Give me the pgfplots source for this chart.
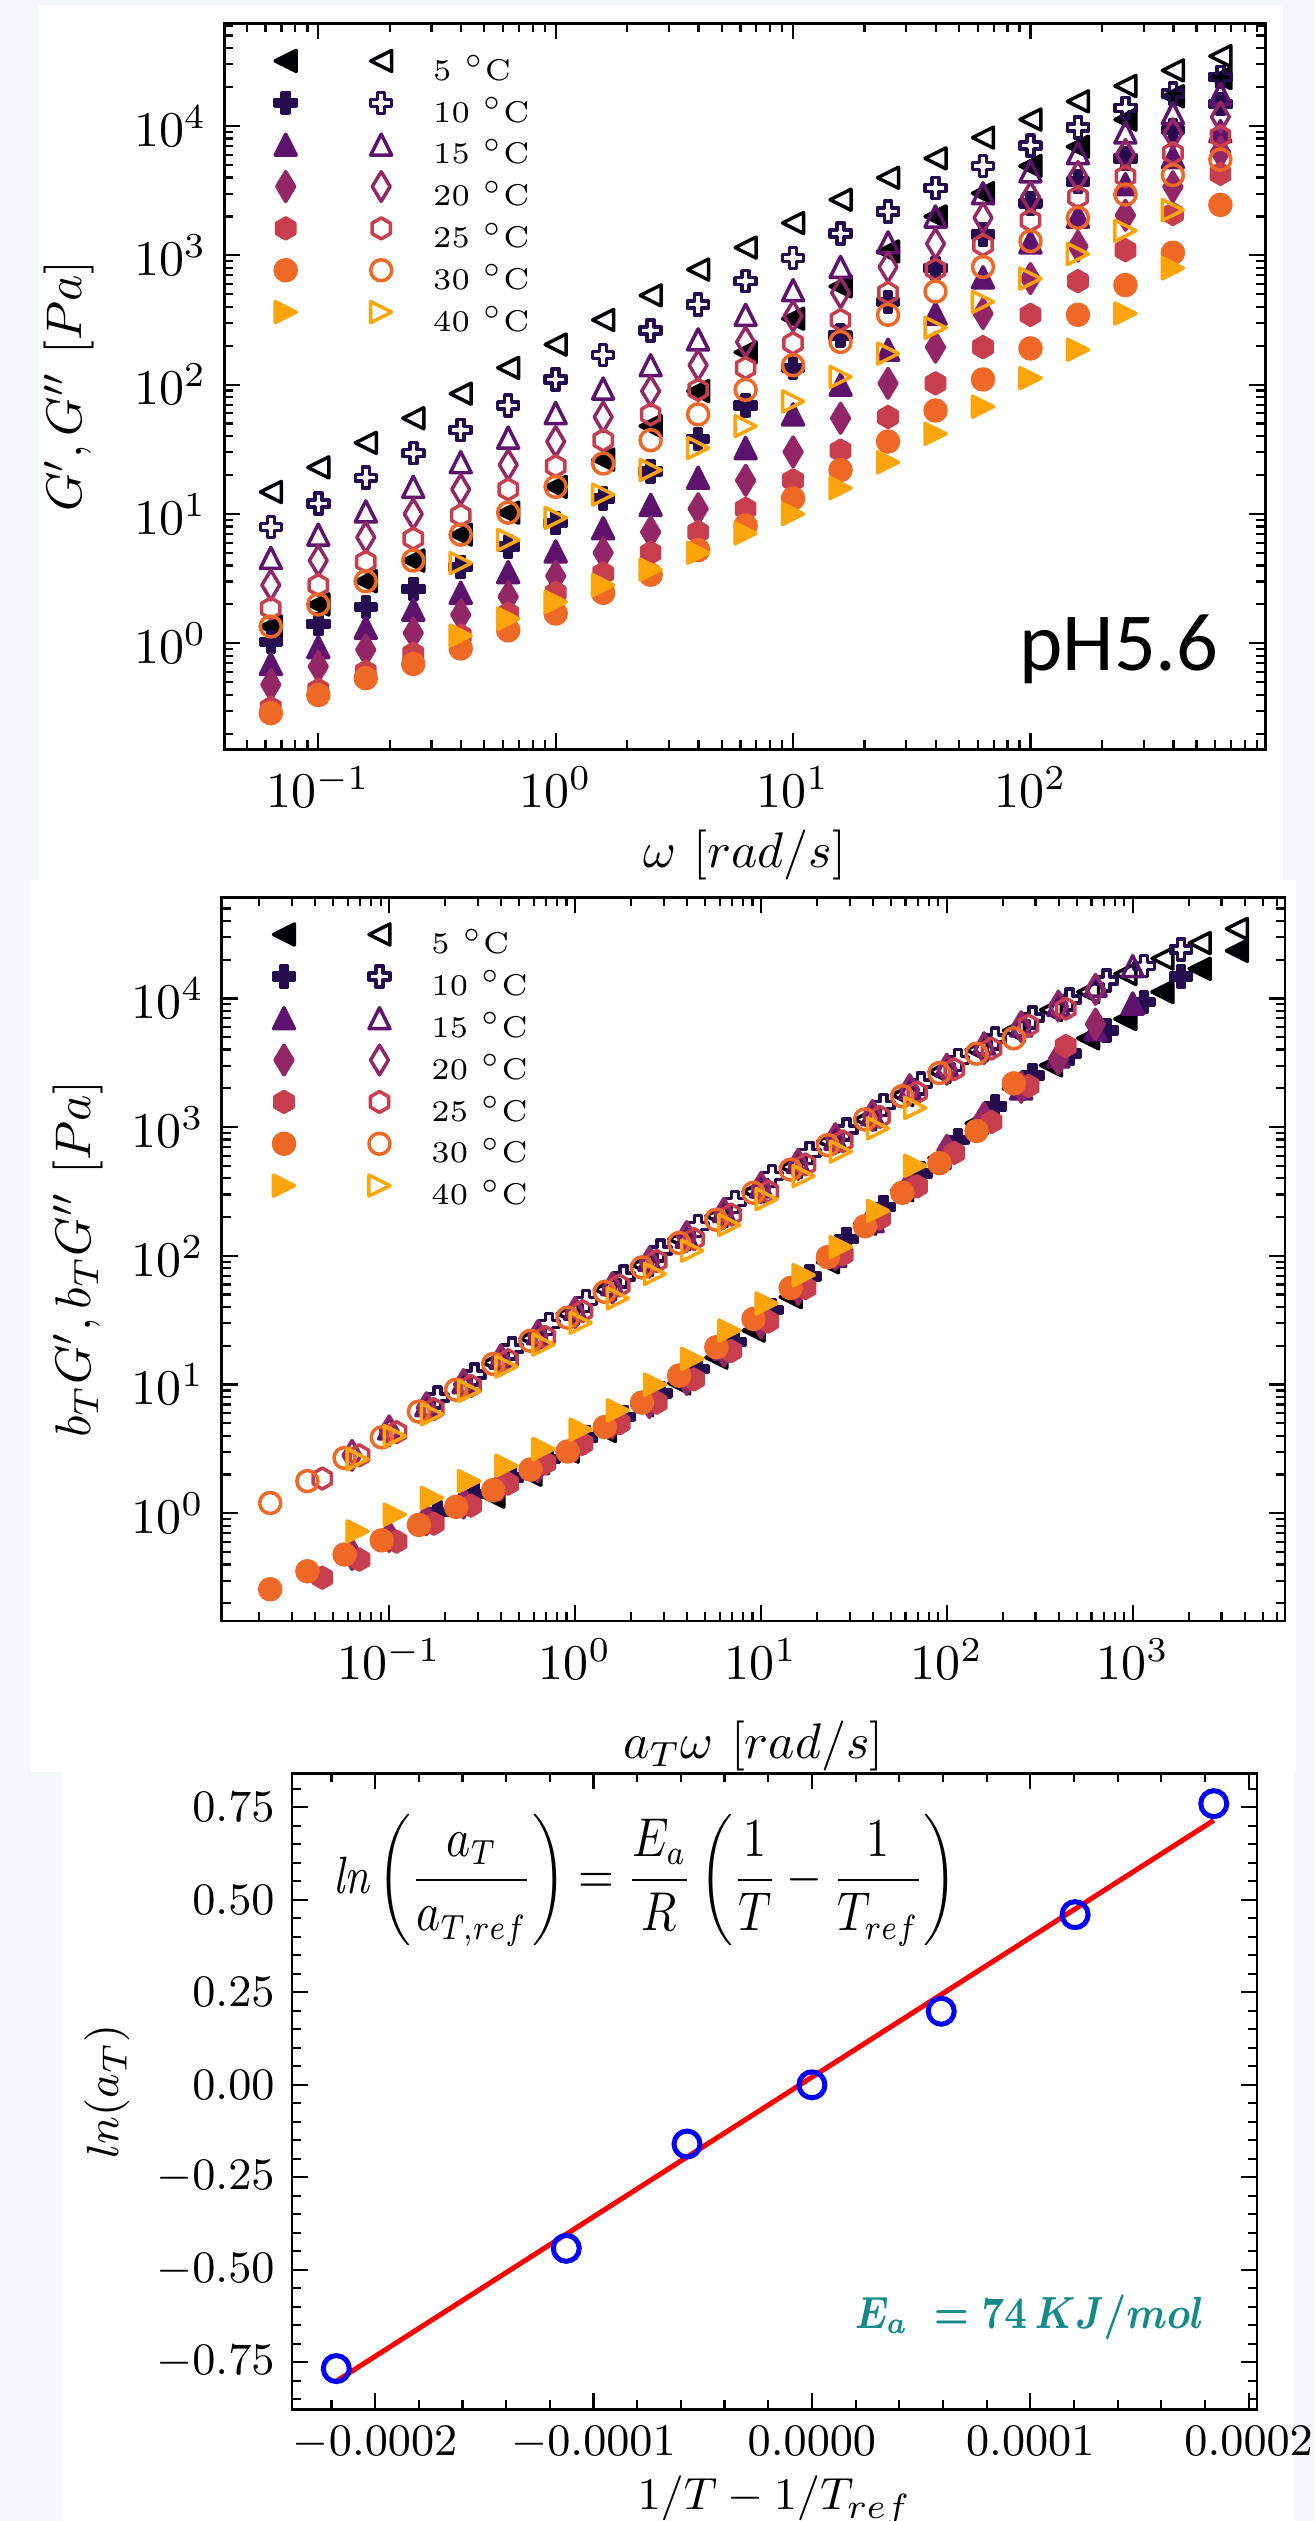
\documentclass[border=0pt]{standalone}
\usepackage{fontspec}
\usepackage{amsmath}
\usepackage{graphicx}
\usepackage{pgfplots}
\usepackage{pgfplotstable}
\pgfplotsset{compat=1.18}
\newfontfamily\calibri{Carlito}

\definecolor{bgc}{HTML}{F4F8F9}
\definecolor{ca}{HTML}{000004}
\definecolor{cb}{HTML}{240C4F}
\definecolor{cc}{HTML}{5D126E}
\definecolor{cd}{HTML}{932667}
\definecolor{ce}{HTML}{C73E4E}
\definecolor{cf}{HTML}{EE6925}
\definecolor{cg}{HTML}{FCA50A}
\definecolor{eacol}{HTML}{148A8A}

% matplotlib-like markers
\newcommand\mr{\pgfplotmarksize}
\newcommand\pathtl{\pgfpathmoveto{\pgfqpoint{-\mr}{0pt}}\pgfpathlineto{\pgfqpoint{\mr}{\mr}}\pgfpathlineto{\pgfqpoint{\mr}{-\mr}}\pgfpathclose}
\newcommand\pathtr{\pgfpathmoveto{\pgfqpoint{\mr}{0pt}}\pgfpathlineto{\pgfqpoint{-\mr}{\mr}}\pgfpathlineto{\pgfqpoint{-\mr}{-\mr}}\pgfpathclose}
\newcommand\pathtu{\pgfpathmoveto{\pgfqpoint{0pt}{\mr}}\pgfpathlineto{\pgfqpoint{-\mr}{-\mr}}\pgfpathlineto{\pgfqpoint{\mr}{-\mr}}\pgfpathclose}
\newcommand\pathpl{\pgfpathmoveto{\pgfqpoint{-0.333\mr}{-\mr}}%
 \pgfpathlineto{\pgfqpoint{-0.333\mr}{-0.333\mr}}\pgfpathlineto{\pgfqpoint{-\mr}{-0.333\mr}}%
 \pgfpathlineto{\pgfqpoint{-\mr}{0.333\mr}}\pgfpathlineto{\pgfqpoint{-0.333\mr}{0.333\mr}}%
 \pgfpathlineto{\pgfqpoint{-0.333\mr}{\mr}}\pgfpathlineto{\pgfqpoint{0.333\mr}{\mr}}%
 \pgfpathlineto{\pgfqpoint{0.333\mr}{0.333\mr}}\pgfpathlineto{\pgfqpoint{\mr}{0.333\mr}}%
 \pgfpathlineto{\pgfqpoint{\mr}{-0.333\mr}}\pgfpathlineto{\pgfqpoint{0.333\mr}{-0.333\mr}}%
 \pgfpathlineto{\pgfqpoint{0.333\mr}{-\mr}}\pgfpathclose}
\newcommand\pathhx{\pgfpathmoveto{\pgfqpoint{0pt}{\mr}}%
 \pgfpathlineto{\pgfqpoint{0.866\mr}{0.5\mr}}\pgfpathlineto{\pgfqpoint{0.866\mr}{-0.5\mr}}%
 \pgfpathlineto{\pgfqpoint{0pt}{-\mr}}\pgfpathlineto{\pgfqpoint{-0.866\mr}{-0.5\mr}}%
 \pgfpathlineto{\pgfqpoint{-0.866\mr}{0.5\mr}}\pgfpathclose}
\newcommand\pathdm{\pgfpathmoveto{\pgfqpoint{0pt}{1.414\mr}}\pgfpathlineto{\pgfqpoint{0.849\mr}{0pt}}%
 \pgfpathlineto{\pgfqpoint{0pt}{-1.414\mr}}\pgfpathlineto{\pgfqpoint{-0.849\mr}{0pt}}\pgfpathclose}
\newcommand\pathci{\pgfpathcircle{\pgfpointorigin}{\mr}}
\pgfdeclareplotmark{tl}{\pathtl\pgfusepathqstroke}
\pgfdeclareplotmark{tl*}{\pathtl\pgfusepathqfillstroke}
\pgfdeclareplotmark{tr}{\pathtr\pgfusepathqstroke}
\pgfdeclareplotmark{tr*}{\pathtr\pgfusepathqfillstroke}
\pgfdeclareplotmark{tu}{\pathtu\pgfusepathqstroke}
\pgfdeclareplotmark{tu*}{\pathtu\pgfusepathqfillstroke}
\pgfdeclareplotmark{pl}{\pathpl\pgfusepathqstroke}
\pgfdeclareplotmark{pl*}{\pathpl\pgfusepathqfillstroke}
\pgfdeclareplotmark{hx}{\pathhx\pgfusepathqstroke}
\pgfdeclareplotmark{hx*}{\pathhx\pgfusepathqfillstroke}
\pgfdeclareplotmark{dm}{\pathdm\pgfusepathqstroke}
\pgfdeclareplotmark{dm*}{\pathdm\pgfusepathqfillstroke}
\pgfdeclareplotmark{ci}{\pathci\pgfusepathqstroke}
\pgfdeclareplotmark{ci*}{\pathci\pgfusepathqfillstroke}

\pgfplotsset{
  fm/.style n args={2}{only marks, forget plot, mark=#1*, color=#2, mark size=2.1pt,
    mark options={fill=#2, line width=0.7pt, line join=round}},
  om/.style n args={2}{only marks, forget plot, mark=#1, color=#2, mark size=2.1pt,
    mark options={line width=0.7pt, line join=round}},
  twomk/.style n args={2}{legend image code/.code={
      \path[draw=none, fill=none] (-3pt,-2.13pt) rectangle (29.5pt,6.33pt);
      \draw[#2, only marks, mark=#1*, mark size=2.1pt, mark options={fill=#2, line width=0.7pt, line join=round}] plot coordinates {(0pt,2.1pt)};
      \draw[#2, only marks, mark=#1, mark size=2.1pt, mark options={line width=0.7pt, line join=round}] plot coordinates {(19.1pt,2.1pt)};
  }},
  panel/.style={
    scale only axis, anchor=north west,
    tick align=inside, tick pos=both,
    major tick length=3.2pt, minor tick length=1.8pt,
    tick style={black, line width=0.45pt},
    axis line style={line width=0.5pt},
    tick label style={font=\fontsize{10.3}{12}\selectfont},
    label style={font=\fontsize{10.3}{12}\selectfont},
  },
  leg/.style={legend cell align=left,
    legend style={draw=none, fill=none, at={(axis description cs:0,1)}, anchor=north west,
      xshift=#1, inner sep=0pt, outer sep=0pt, row sep=-1.2pt, column sep=0pt,
      font=\fontsize{6}{7}\selectfont, nodes={inner sep=0pt}}},
  logminy/.style={minor ytick={-0.699,-0.523,-0.398,-0.301,-0.222,-0.155,-0.097,-0.046,
    0.301,0.477,0.602,0.699,0.778,0.845,0.903,0.954,
    1.301,1.477,1.602,1.699,1.778,1.845,1.903,1.954,
    2.301,2.477,2.602,2.699,2.778,2.845,2.903,2.954,
    3.301,3.477,3.602,3.699,3.778,3.845,3.903,3.954,
    4.301,4.477,4.602,4.699,4.778},
    ytick={0,1,2,3,4}, yticklabels={$10^{0}$,$10^{1}$,$10^{2}$,$10^{3}$,$10^{4}$}},
}

% log10 values read from the chart: lw = log omega, gp = log G', gpp = log G'',
% lx = log(a_T omega), bgp/bgpp = log(b_T G)
\pgfplotstableread{
lw gp gpp lx
-1.2 0.13 1.17 -0.44
-1.0 0.30 1.36 -0.24
-0.8 0.48 1.55 -0.04
-0.6 0.64 1.74 0.16
-0.4 0.84 1.93 0.36
-0.2 1.01 2.13 0.56
0.0 1.21 2.31 0.76
0.2 1.42 2.50 0.96
0.4 1.68 2.69 1.16
0.6 1.95 2.89 1.36
0.8 2.25 3.06 1.56
1.0 2.51 3.25 1.76
1.2 2.76 3.43 1.96
1.4 3.03 3.60 2.16
1.6 3.30 3.75 2.36
1.8 3.48 3.91 2.56
2.0 3.69 4.05 2.76
2.2 3.84 4.19 2.96
2.4 4.05 4.31 3.16
2.6 4.23 4.43 3.36
2.8 4.37 4.54 3.56
}\tfive
\pgfplotstableread{
lw gp gpp lx
-1.2 0.01 0.90 -0.74
-1.0 0.15 1.08 -0.54
-0.8 0.28 1.28 -0.34
-0.6 0.42 1.47 -0.14
-0.4 0.59 1.65 0.06
-0.2 0.75 1.84 0.26
0.0 0.93 2.04 0.46
0.2 1.12 2.23 0.66
0.4 1.33 2.42 0.86
0.6 1.58 2.62 1.06
0.8 1.84 2.80 1.26
1.0 2.13 2.98 1.46
1.2 2.38 3.17 1.66
1.4 2.64 3.34 1.86
1.6 2.90 3.52 2.06
1.8 3.16 3.69 2.26
2.0 3.40 3.85 2.46
2.2 3.57 3.99 2.66
2.4 3.75 4.14 2.86
2.6 3.97 4.25 3.06
2.8 4.17 4.38 3.26
}\tten
\pgfplotstableread{
lw gp gpp lx
-1.2 -0.16 0.66 -1.0
-1.0 -0.03 0.84 -0.8
-0.8 0.12 1.02 -0.6
-0.6 0.26 1.21 -0.4
-0.4 0.39 1.40 -0.2
-0.2 0.55 1.59 0.0
0.0 0.71 1.78 0.2
0.2 0.89 1.97 0.4
0.4 1.07 2.15 0.6
0.6 1.28 2.35 0.8
0.8 1.51 2.54 1.0
1.0 1.77 2.73 1.2
1.2 2.00 2.91 1.4
1.4 2.27 3.10 1.6
1.6 2.55 3.30 1.8
1.8 2.83 3.48 2.0
2.0 3.10 3.65 2.2
2.2 3.30 3.79 2.4
2.4 3.55 3.95 2.6
2.6 3.76 4.10 2.8
2.8 3.96 4.25 3.0
}\tfifteen
\pgfplotstableread{
lw gp gpp lx
-1.2 -0.32 0.45 -1.2
-1.0 -0.18 0.64 -1.0
-0.8 -0.05 0.82 -0.8
-0.6 0.08 1.00 -0.6
-0.4 0.22 1.19 -0.4
-0.2 0.36 1.38 -0.2
0.0 0.52 1.56 0.0
0.2 0.70 1.75 0.2
0.4 0.86 1.95 0.4
0.6 1.04 2.15 0.6
0.8 1.26 2.33 0.8
1.0 1.48 2.53 1.0
1.2 1.74 2.71 1.2
1.4 2.01 2.91 1.4
1.6 2.29 3.09 1.6
1.8 2.55 3.29 1.8
2.0 2.82 3.45 2.0
2.2 3.07 3.61 2.2
2.4 3.31 3.78 2.4
2.6 3.53 3.94 2.6
2.8 3.80 4.07 2.8
}\ttwenty
\pgfplotstableread{
lw gp gpp lx
-1.2 -0.50 0.27 -1.36
-1.0 -0.36 0.45 -1.16
-0.8 -0.22 0.63 -0.96
-0.6 -0.08 0.81 -0.76
-0.4 0.06 0.99 -0.56
-0.2 0.23 1.19 -0.36
0.0 0.39 1.37 -0.16
0.2 0.54 1.57 0.04
0.4 0.70 1.77 0.24
0.6 0.86 1.96 0.44
0.8 1.04 2.13 0.64
1.0 1.26 2.32 0.84
1.2 1.49 2.50 1.04
1.4 1.75 2.71 1.24
1.6 2.01 2.89 1.44
1.8 2.29 3.08 1.64
2.0 2.54 3.27 1.84
2.2 2.80 3.45 2.04
2.4 3.04 3.61 2.24
2.6 3.32 3.79 2.44
2.8 3.63 3.92 2.64
}\ttwentyfive
\pgfplotstableread{
lw gp gpp lx bgp bgpp
-1.2 -0.54 0.13 -1.64 -0.59 0.08
-1.0 -0.40 0.30 -1.44 -0.45 0.25
-0.8 -0.27 0.48 -1.24 -0.32 0.43
-0.6 -0.16 0.64 -1.04 -0.21 0.59
-0.4 -0.04 0.84 -0.84 -0.09 0.79
-0.2 0.10 1.01 -0.64 0.05 0.96
0.0 0.23 1.21 -0.44 0.18 1.16
0.2 0.39 1.39 -0.24 0.34 1.34
0.4 0.53 1.57 -0.04 0.48 1.52
0.6 0.72 1.77 0.16 0.67 1.72
0.8 0.91 1.96 0.36 0.86 1.91
1.0 1.12 2.15 0.56 1.07 2.10
1.2 1.34 2.33 0.76 1.29 2.28
1.4 1.56 2.54 0.96 1.51 2.49
1.6 1.80 2.72 1.16 1.75 2.67
1.8 2.04 2.91 1.36 1.99 2.86
2.0 2.28 3.11 1.56 2.23 3.06
2.2 2.54 3.29 1.76 2.49 3.24
2.4 2.77 3.47 1.96 2.72 3.42
2.6 3.02 3.62 2.16 2.97 3.57
2.8 3.39 3.74 2.36 3.34 3.69
}\tthirty
\pgfplotstableread{
lw gp gpp lx bgp bgpp
-0.4 0.06 0.62 -1.17 -0.14 0.42
-0.2 0.19 0.80 -0.97 -0.01 0.60
0.0 0.32 0.97 -0.77 0.12 0.77
0.2 0.45 1.15 -0.57 0.25 0.95
0.4 0.57 1.34 -0.37 0.37 1.14
0.6 0.70 1.51 -0.17 0.50 1.31
0.8 0.85 1.68 0.03 0.65 1.48
1.0 1.00 1.87 0.23 0.80 1.67
1.2 1.20 2.06 0.43 1.00 1.86
1.4 1.40 2.24 0.63 1.20 2.04
1.6 1.62 2.44 0.83 1.42 2.24
1.8 1.83 2.64 1.03 1.63 2.44
2.0 2.05 2.82 1.23 1.85 2.62
2.2 2.27 3.01 1.43 2.07 2.81
2.4 2.55 3.19 1.63 2.35 2.99
2.6 2.90 3.35 1.83 2.70 3.15
}\tforty

\begin{document}
\begin{tikzpicture}
\useasboundingbox (0pt,0pt) rectangle (263pt,-504.2pt);
\fill[bgc] (0pt,0pt) rectangle (263pt,-504.2pt);
\fill[white] (7.6pt,-1pt) rectangle (256.6pt,-176pt);
\fill[white] (6.2pt,-176pt) rectangle (259.2pt,-354.4pt);
\fill[white] (12.6pt,-354.4pt) rectangle (258.8pt,-504.2pt);

% ---------- top: raw moduli ----------
\begin{axis}[panel, at={(44.86pt,-4.66pt)}, width=208.24pt, height=145.2pt,
  xmin=-1.396, xmax=2.99, ymin=-0.82, ymax=4.794,
  xtick={-1,0,1,2}, xticklabels={$10^{-1}$,$10^{0}$,$10^{1}$,$10^{2}$},
  minor xtick={-1.301,-1.222,-1.155,-1.097,-1.046,
    -0.699,-0.523,-0.398,-0.301,-0.222,-0.155,-0.097,-0.046,
    0.301,0.477,0.602,0.699,0.778,0.845,0.903,0.954,
    1.301,1.477,1.602,1.699,1.778,1.845,1.903,1.954,
    2.301,2.477,2.602,2.699,2.778,2.845,2.903,2.954},
  logminy,
  xlabel={$\omega\ [rad/s]$}, ylabel={$G', G''\ [Pa]$},
  xlabel style={at={(axis description cs:0.5,-0.1456)}, anchor=center},
  ylabel style={at={(axis description cs:-0.149,0.5)}, anchor=center},
  leg=9.28pt, legend style={yshift=-3.3pt},
]
\addlegendimage{twomk={tl}{ca}}\addlegendentry{5 $^{\circ}$C}
\addlegendimage{twomk={pl}{cb}}\addlegendentry{10 $^{\circ}$C}
\addlegendimage{twomk={tu}{cc}}\addlegendentry{15 $^{\circ}$C}
\addlegendimage{twomk={dm}{cd}}\addlegendentry{20 $^{\circ}$C}
\addlegendimage{twomk={hx}{ce}}\addlegendentry{25 $^{\circ}$C}
\addlegendimage{twomk={ci}{cf}}\addlegendentry{30 $^{\circ}$C}
\addlegendimage{twomk={tr}{cg}}\addlegendentry{40 $^{\circ}$C}
\addplot[fm={tl}{ca}] table[x=lw,y=gp]{\tfive};
\addplot[om={tl}{ca}] table[x=lw,y=gpp]{\tfive};
\addplot[fm={pl}{cb}] table[x=lw,y=gp]{\tten};
\addplot[om={pl}{cb}] table[x=lw,y=gpp]{\tten};
\addplot[fm={tu}{cc}] table[x=lw,y=gp]{\tfifteen};
\addplot[om={tu}{cc}] table[x=lw,y=gpp]{\tfifteen};
\addplot[fm={dm}{cd}] table[x=lw,y=gp]{\ttwenty};
\addplot[om={dm}{cd}] table[x=lw,y=gpp]{\ttwenty};
\addplot[fm={hx}{ce}] table[x=lw,y=gp]{\ttwentyfive};
\addplot[om={hx}{ce}] table[x=lw,y=gpp]{\ttwentyfive};
\addplot[fm={ci}{cf}] table[x=lw,y=gp]{\tthirty};
\addplot[om={ci}{cf}] table[x=lw,y=gpp]{\tthirty};
\addplot[fm={tr}{cg}] table[x=lw,y=gp]{\tforty};
\addplot[om={tr}{cg}] table[x=lw,y=gpp]{\tforty};
\end{axis}
\node[anchor=base east, inner sep=0pt, font=\fontsize{16.5}{18}\calibri] at (243.9pt,-134pt) {pH5.6};

% ---------- middle: master curves ----------
\begin{axis}[panel, at={(44.34pt,-179.46pt)}, width=212.66pt, height=144.74pt,
  xmin=-1.901, xmax=3.819, ymin=-0.837, ymax=4.785,
  xtick={-1,0,1,2,3}, xticklabels={$10^{-1}$,$10^{0}$,$10^{1}$,$10^{2}$,$10^{3}$},
  minor xtick={-1.699,-1.523,-1.398,-1.301,-1.222,-1.155,-1.097,-1.046,
    -0.699,-0.523,-0.398,-0.301,-0.222,-0.155,-0.097,-0.046,
    0.301,0.477,0.602,0.699,0.778,0.845,0.903,0.954,
    1.301,1.477,1.602,1.699,1.778,1.845,1.903,1.954,
    2.301,2.477,2.602,2.699,2.778,2.845,2.903,2.954,
    3.301,3.477,3.602,3.699,3.778},
  logminy,
  xlabel={$a_T\omega\ [rad/s]$}, ylabel={$b_TG', b_TG''\ [Pa]$},
  xlabel style={at={(axis description cs:0.5,-0.173)}, anchor=center},
  ylabel style={at={(axis description cs:-0.135,0.5)}, anchor=center},
  leg=9.46pt, legend style={yshift=-3.2pt},
]
\addlegendimage{twomk={tl}{ca}}\addlegendentry{5 $^{\circ}$C}
\addlegendimage{twomk={pl}{cb}}\addlegendentry{10 $^{\circ}$C}
\addlegendimage{twomk={tu}{cc}}\addlegendentry{15 $^{\circ}$C}
\addlegendimage{twomk={dm}{cd}}\addlegendentry{20 $^{\circ}$C}
\addlegendimage{twomk={hx}{ce}}\addlegendentry{25 $^{\circ}$C}
\addlegendimage{twomk={ci}{cf}}\addlegendentry{30 $^{\circ}$C}
\addlegendimage{twomk={tr}{cg}}\addlegendentry{40 $^{\circ}$C}
\addplot[fm={tl}{ca}] table[x=lx,y=gp]{\tfive};
\addplot[om={tl}{ca}] table[x=lx,y=gpp]{\tfive};
\addplot[fm={pl}{cb}] table[x=lx,y=gp]{\tten};
\addplot[om={pl}{cb}] table[x=lx,y=gpp]{\tten};
\addplot[fm={tu}{cc}] table[x=lx,y=gp]{\tfifteen};
\addplot[om={tu}{cc}] table[x=lx,y=gpp]{\tfifteen};
\addplot[fm={dm}{cd}] table[x=lx,y=gp]{\ttwenty};
\addplot[om={dm}{cd}] table[x=lx,y=gpp]{\ttwenty};
\addplot[fm={hx}{ce}] table[x=lx,y=gp]{\ttwentyfive};
\addplot[om={hx}{ce}] table[x=lx,y=gpp]{\ttwentyfive};
\addplot[fm={ci}{cf}] table[x=lx,y=bgp]{\tthirty};
\addplot[om={ci}{cf}] table[x=lx,y=bgpp]{\tthirty};
\addplot[fm={tr}{cg}] table[x=lx,y=bgp]{\tforty};
\addplot[om={tr}{cg}] table[x=lx,y=bgpp]{\tforty};
\end{axis}

% ---------- bottom: Arrhenius ----------
\begin{axis}[panel, at={(58.44pt,-354.66pt)}, width=192.96pt, height=127.2pt,
  xmin=-2.38, xmax=2.038, ymin=-0.877, ymax=0.842,
  xtick={-2,-1,0,1,2},
  xticklabels={$-0.0002$,$-0.0001$,$0.0000$,$0.0001$,$0.0002$},
  minor xtick={-2.2,-1.8,-1.6,-1.4,-1.2,-0.8,-0.6,-0.4,-0.2,0.2,0.4,0.6,0.8,1.2,1.4,1.6,1.8},
  ytick={-0.75,-0.5,-0.25,0,0.25,0.5,0.75},
  yticklabels={$-0.75$,$-0.50$,$-0.25$,$0.00$,$0.25$,$0.50$,$0.75$},
  minor ytick={-0.85,-0.8,-0.7,-0.65,-0.6,-0.55,-0.45,-0.4,-0.35,-0.3,-0.2,-0.15,-0.1,-0.05,
    0.05,0.1,0.15,0.2,0.3,0.35,0.4,0.45,0.55,0.6,0.65,0.7,0.8},
  tick label style={font=\fontsize{9.3}{11}\selectfont},
  label style={font=\fontsize{9.3}{11}\selectfont},
  xlabel={$1/T-1/T_{ref}$}, ylabel={$ln(a_T)$},
  xlabel style={at={(axis description cs:0.5,-0.143)}, anchor=center},
  ylabel style={at={(axis description cs:-0.192,0.5)}, anchor=center},
]
% x in units of 1e-4 K^-1
\addplot[only marks, mark=ci, blue, mark size=2.6pt, mark options={line width=1pt}] coordinates {
  (-2.178,-0.767) (-1.125,-0.442) (-0.572,-0.160) (0,0)
  (0.592,0.199) (1.205,0.460) (1.84,0.760)};
\addplot[red, line width=1pt] coordinates {(-2.178,-0.801) (1.84,0.715)};
\end{axis}
\node[anchor=north west, inner sep=0pt, font=\fontsize{10.5}{13}\selectfont] at (66.5pt,-362.6pt)
  {\scalebox{0.84}[1]{$\mathit{ln}\left(\dfrac{a_T}{a_{T,ref}}\right)=\dfrac{E_a}{R}\left(\dfrac{1}{T}-\dfrac{1}{T_{ref}}\right)$}};
\node[anchor=base east, inner sep=0pt, text=eacol, font=\fontsize{8.7}{11}\selectfont] at (241pt,-465.6pt)
  {\scalebox{0.85}[1]{$\boldsymbol{E_a\ =74\,KJ/mol}$}};
\end{tikzpicture}
\end{document}
